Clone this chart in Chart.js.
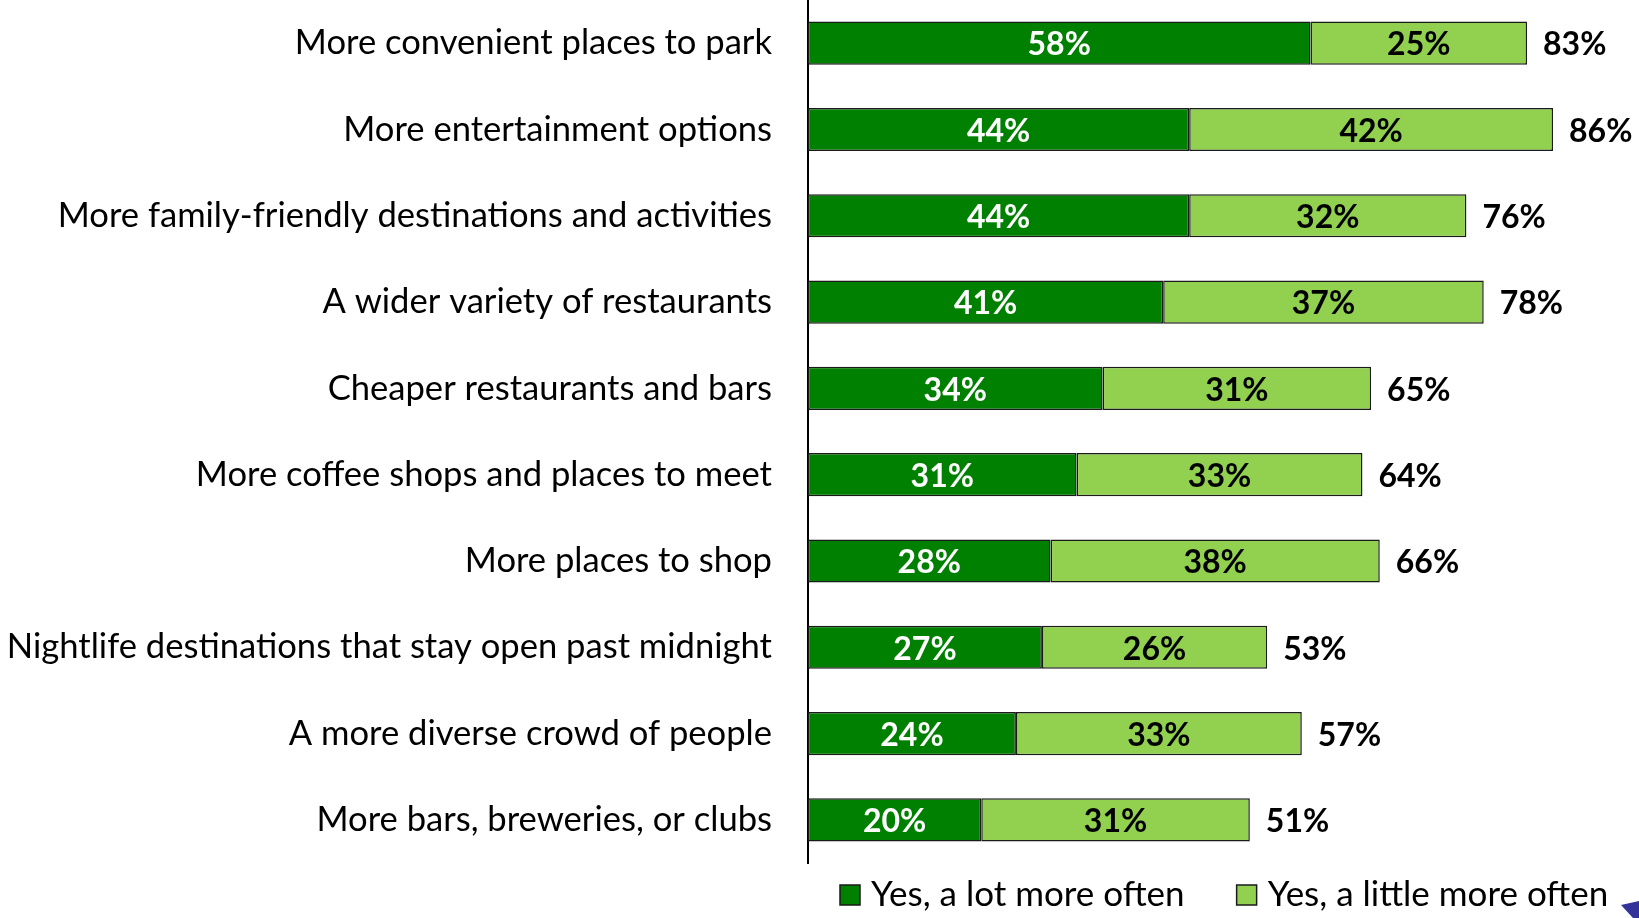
<!DOCTYPE html>
<html>
<head>
<meta charset="utf-8">
<script src="https://cdn.jsdelivr.net/npm/chart.js@4"></script>
<style>
  body { margin: 0; background: #fff; }
  #wrap { width: 1639px; height: 918px; }
</style>
</head>
<body>
<div id="wrap"><canvas id="chart" width="1639" height="918"></canvas></div>
<script>
"use strict";

const categories = [
  "More convenient places to park",
  "More entertainment options",
  "More family-friendly destinations and activities",
  "A wider variety of restaurants",
  "Cheaper restaurants and bars",
  "More coffee shops and places to meet",
  "More places to shop",
  "Nightlife destinations that stay open past midnight",
  "A more diverse crowd of people",
  "More bars, breweries, or clubs"
];
const lotMoreOften = [58, 44, 44, 41, 34, 31, 28, 27, 24, 20];
const littleMoreOften = [25, 42, 32, 37, 31, 33, 38, 26, 33, 31];
const totals = [83, 86, 76, 78, 65, 64, 66, 53, 57, 51];

const labelFont = "Lato, 'Noto Sans', sans-serif";
const barBorder = "#1a1a1a";

// % values inside the bars and the totals to the right
const valueLabels = {
  id: "valueLabels",
  afterDatasetsDraw(chart) {
    const ctx = chart.ctx;
    ctx.save();
    ctx.font = "bold 32px " + labelFont;
    ctx.textBaseline = "middle";
    chart.data.datasets.forEach((ds, i) => {
      const meta = chart.getDatasetMeta(i);
      meta.data.forEach((bar, j) => {
        ctx.textAlign = "center";
        ctx.fillStyle = i === 0 ? "#ffffff" : "#000000";
        ctx.fillText(ds.data[j] + "%", (bar.x + bar.base) / 2, bar.y + 2);
      });
    });
    const last = chart.getDatasetMeta(chart.data.datasets.length - 1);
    last.data.forEach((bar, j) => {
      ctx.textAlign = "left";
      ctx.fillStyle = "#000000";
      ctx.fillText(totals[j] + "%", bar.x + 16, bar.y + 2);
    });
    ctx.restore();
  }
};

// legend below the plot, plus the little slide corner mark
const bottomLegend = {
  id: "bottomLegend",
  afterDraw(chart) {
    const ctx = chart.ctx;
    const area = chart.chartArea;
    const y = area.bottom + 32;
    let x = area.left + 32;
    ctx.save();
    ctx.font = "35px " + labelFont;
    ctx.textBaseline = "middle";
    ctx.textAlign = "left";
    chart.data.datasets.forEach(ds => {
      ctx.fillStyle = ds.backgroundColor;
      ctx.fillRect(x, y - 10, 20, 20);
      ctx.lineWidth = 1.5;
      ctx.strokeStyle = barBorder;
      ctx.strokeRect(x, y - 10, 20, 20);
      x += 31;
      ctx.fillStyle = "#000";
      ctx.fillText(ds.label, x, y);
      x += ctx.measureText(ds.label).width + 52;
    });
    const w = chart.width, h = chart.height;
    ctx.fillStyle = "#33339a";
    ctx.beginPath();
    ctx.moveTo(w - 18, h - 13);
    ctx.lineTo(w, h - 17);
    ctx.lineTo(w, h);
    ctx.lineTo(w - 6, h);
    ctx.closePath();
    ctx.fill();
    ctx.restore();
  }
};

const ctx = document.getElementById("chart").getContext("2d");
new Chart(ctx, {
  type: "bar",
  data: {
    labels: categories,
    datasets: [
      {
        label: "Yes, a lot more often",
        data: lotMoreOften,
        backgroundColor: "#008000",
        borderColor: barBorder,
        borderWidth: 1.5,
        borderSkipped: false,
        barPercentage: 0.5,
        categoryPercentage: 1
      },
      {
        label: "Yes, a little more often",
        data: littleMoreOften,
        backgroundColor: "#92d050",
        borderColor: barBorder,
        borderWidth: 1.5,
        borderSkipped: false,
        barPercentage: 0.5,
        categoryPercentage: 1
      }
    ]
  },
  options: {
    indexAxis: "y",
    responsive: false,
    animation: false,
    layout: { padding: { left: 0, right: 8, top: 0, bottom: 55 } },
    plugins: {
      tooltip: { enabled: false },
      legend: { display: false }
    },
    scales: {
      x: {
        stacked: true,
        display: false,
        min: 0,
        max: 95
      },
      y: {
        stacked: true,
        grid: { display: false, drawTicks: false },
        border: { display: true, color: "#000", width: 2 },
        ticks: {
          color: "#000",
          font: { family: labelFont, size: 34.6 },
          padding: 36
        },
        afterFit(scale) {
          scale.width = 808;
          scale.paddingTop = 0;
          scale.paddingBottom = 0;
        }
      }
    }
  },
  plugins: [valueLabels, bottomLegend]
});
</script>
</body>
</html>
